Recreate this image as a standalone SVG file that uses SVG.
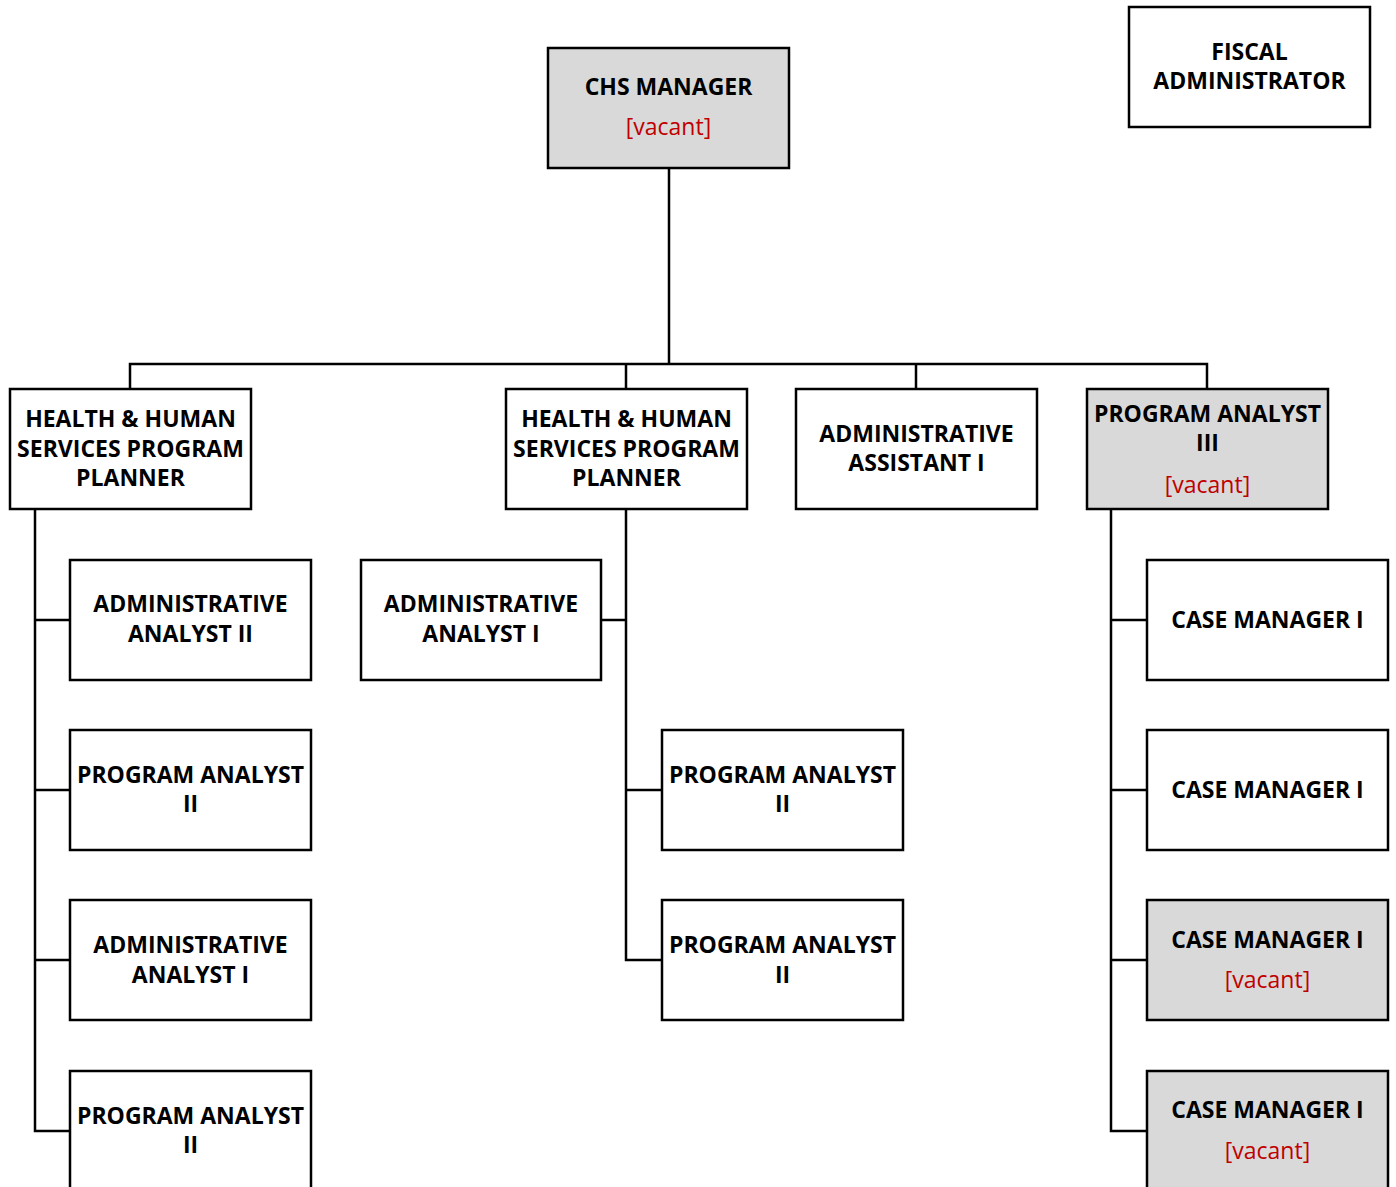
<svg xmlns="http://www.w3.org/2000/svg" width="1396" height="1187" viewBox="0 0 1396 1187">
<style>
.box{fill:#ffffff;stroke:#000;stroke-width:2.5}
.vac{fill:#d9d9d9;stroke:#000;stroke-width:2.5}
.t{font-family:"Open Sans","Liberation Sans",sans-serif;font-weight:bold;font-size:23px;text-anchor:middle;fill:#000}
.r{font-family:"Open Sans","Liberation Sans",sans-serif;font-size:23px;text-anchor:middle;fill:#c00000}
.c{fill:none;stroke:#000;stroke-width:2.5;stroke-linecap:square}
</style>
<rect width="1396" height="1187" fill="#fff"/>
<g id="connectors">
<path class="c" d="M669 168V364M130 389V364H1207V389M626 364V389M916 364V389"/>
<path class="c" d="M35 509V1131H70M35 620H70M35 790H70M35 960H70"/>
<path class="c" d="M626 509V960H662M601 620H626M626 790H662"/>
<path class="c" d="M1111 509V1131H1147M1111 620H1147M1111 790H1147M1111 960H1147"/>
</g>
<g id="chs-manager"><rect class="vac" x="548" y="48" width="241" height="120"/><text class="t" x="668.5" y="95">CHS MANAGER</text><text class="r" x="668.5" y="135">[vacant]</text></g>
<g id="fiscal-admin"><rect class="box" x="1129" y="7" width="241" height="120"/><text class="t" x="1249.5" y="60">FISCAL</text><text class="t" x="1249.5" y="89">ADMINISTRATOR</text></g>
<g id="hhs-planner-1"><rect class="box" x="10" y="389" width="241" height="120"/><text class="t" x="130.5" y="427">HEALTH &amp; HUMAN</text><text class="t" x="130.5" y="456.5">SERVICES PROGRAM</text><text class="t" x="130.5" y="486">PLANNER</text></g>
<g id="hhs-planner-2"><rect class="box" x="506" y="389" width="241" height="120"/><text class="t" x="626.5" y="427">HEALTH &amp; HUMAN</text><text class="t" x="626.5" y="456.5">SERVICES PROGRAM</text><text class="t" x="626.5" y="486">PLANNER</text></g>
<g id="admin-assistant"><rect class="box" x="796" y="389" width="241" height="120"/><text class="t" x="916.5" y="442">ADMINISTRATIVE</text><text class="t" x="916.5" y="471">ASSISTANT I</text></g>
<g id="program-analyst-3"><rect class="vac" x="1087" y="389" width="241" height="120"/><text class="t" x="1207.5" y="422">PROGRAM ANALYST</text><text class="t" x="1207.5" y="451">III</text><text class="r" x="1207.5" y="493">[vacant]</text></g>
<g id="admin-analyst-2-left"><rect class="box" x="70" y="560" width="241" height="120"/><text class="t" x="190.5" y="612">ADMINISTRATIVE</text><text class="t" x="190.5" y="642">ANALYST II</text></g>
<g id="program-analyst-2-left-a"><rect class="box" x="70" y="730" width="241" height="120"/><text class="t" x="190.5" y="783">PROGRAM ANALYST</text><text class="t" x="190.5" y="812">II</text></g>
<g id="admin-analyst-1-left"><rect class="box" x="70" y="900" width="241" height="120"/><text class="t" x="190.5" y="953">ADMINISTRATIVE</text><text class="t" x="190.5" y="983">ANALYST I</text></g>
<g id="program-analyst-2-left-b"><rect class="box" x="70" y="1071" width="241" height="120"/><text class="t" x="190.5" y="1124">PROGRAM ANALYST</text><text class="t" x="190.5" y="1153">II</text></g>
<g id="admin-analyst-1-mid"><rect class="box" x="361" y="560" width="240" height="120"/><text class="t" x="481" y="612">ADMINISTRATIVE</text><text class="t" x="481" y="642">ANALYST I</text></g>
<g id="program-analyst-2-mid-a"><rect class="box" x="662" y="730" width="241" height="120"/><text class="t" x="782.5" y="783">PROGRAM ANALYST</text><text class="t" x="782.5" y="812">II</text></g>
<g id="program-analyst-2-mid-b"><rect class="box" x="662" y="900" width="241" height="120"/><text class="t" x="782.5" y="953">PROGRAM ANALYST</text><text class="t" x="782.5" y="983">II</text></g>
<g id="case-manager-1"><rect class="box" x="1147" y="560" width="241" height="120"/><text class="t" x="1267.5" y="628">CASE MANAGER I</text></g>
<g id="case-manager-2"><rect class="box" x="1147" y="730" width="241" height="120"/><text class="t" x="1267.5" y="798">CASE MANAGER I</text></g>
<g id="case-manager-3"><rect class="vac" x="1147" y="900" width="241" height="120"/><text class="t" x="1267.5" y="948">CASE MANAGER I</text><text class="r" x="1267.5" y="988">[vacant]</text></g>
<g id="case-manager-4"><rect class="vac" x="1147" y="1071" width="241" height="120"/><text class="t" x="1267.5" y="1118">CASE MANAGER I</text><text class="r" x="1267.5" y="1159">[vacant]</text></g>
</svg>
